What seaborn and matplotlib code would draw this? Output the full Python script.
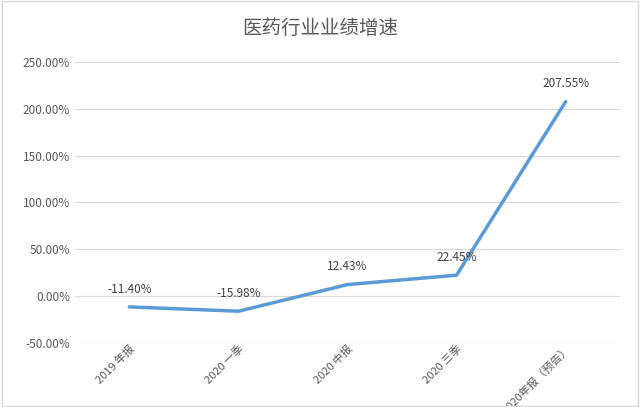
import matplotlib
matplotlib.use('Agg')
import matplotlib.pyplot as plt
import seaborn as sns
import pandas as pd
from matplotlib.ticker import FuncFormatter

periods = ['2019 年报', '2020 一季', '2020 中报', '2020 三季', '2020年报（预告）']
growth = [-11.40, -15.98, 12.43, 22.45, 207.55]

sns.set_theme(style='white')
plt.rcParams['font.family'] = ['Noto Sans CJK SC', 'DejaVu Sans']

df = pd.DataFrame({'period': periods, 'growth': growth})

fig = plt.figure(figsize=(6.4, 4.07), dpi=100)
ax = fig.add_axes([0.117, 0.157, 0.852, 0.691])
sns.lineplot(data=df, x='period', y='growth', ax=ax, color='#5B9BD5',
             linewidth=2.5, sort=False)

for i, v in enumerate(growth):
    ax.text(i, v + 12, f'{v:.2f}%', ha='center', va='bottom', fontsize=8.5, color='#404040')

ax.set_ylim(-50, 250)
ax.set_xlim(-0.5, 4.5)
ax.set_yticks(range(-50, 251, 50))
ax.yaxis.set_major_formatter(FuncFormatter(lambda v, p: f'{v:.2f}%'))
ax.grid(axis='y', color='#d9d9d9', linewidth=0.8)
for s in ax.spines.values():
    s.set_visible(False)
ax.tick_params(axis='y', labelsize=8.5, colors='#595959', length=0)
ax.tick_params(axis='x', labelsize=8, colors='#595959', length=0, pad=0)
ax.set_xticks(range(len(periods)))
ax.set_xticklabels(periods, rotation=45, ha='right', rotation_mode='anchor')
ax.set_xlabel('')
ax.set_ylabel('')

fig.text(0.5, 0.93, '医药行业业绩增速', ha='center', va='center', fontsize=14, color='#595959')
fig.patches.append(plt.Rectangle((0.003, 0.003), 0.994, 0.994, transform=fig.transFigure,
                                 fill=False, edgecolor='#d9d9d9', linewidth=1))

fig.savefig('out.png', dpi=100)
